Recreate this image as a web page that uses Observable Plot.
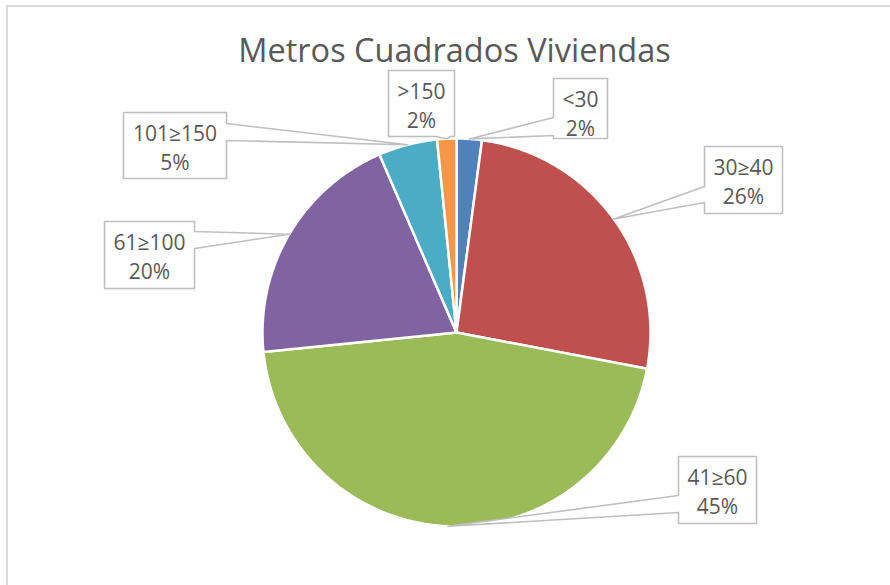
<!DOCTYPE html>
<html>
<head>
<meta charset="utf-8">
<script src="https://cdn.jsdelivr.net/npm/d3@7"></script>
<script src="https://cdn.jsdelivr.net/npm/@observablehq/plot@0.6"></script>
<style>
  html, body { margin: 0; padding: 0; background: #fff; overflow: hidden; }
  #wrap { position: relative; width: 890px; height: 585px; overflow: hidden; }
  #border { position: absolute; left: 6px; top: 5px; width: 1000px; height: 700px; border: 2px solid #d9d9d9; box-sizing: border-box; }
  #chart { position: absolute; left: 0; top: 0; }
</style>
</head>
<body>
<div id="wrap"><div id="border"></div><div id="chart"></div></div>
<script>
// ---- data ----
const title = "Metros Cuadrados Viviendas";
const categories = ["<30", "30≥40", "41≥60", "61≥100", "101≥150", ">150"];
const shares = [2.1, 25.9, 45.4, 20.1, 4.9, 1.6];
const colors = ["#4F81BD", "#C0504D", "#9BBB59", "#8064A2", "#4BACC6", "#F79646"];

// ---- layout (page pixels) ----
const W = 890, H = 585;
const CX = 456, CY = 332, R = 194;
const boxes = {
  "<30":     {left: 553, top: 78,  w: 54,  h: 60, side: "left",   a: 39, b: 57},
  "30≥40":   {left: 704, top: 146, w: 78,  h: 67, side: "left",   a: 40, b: 56},
  "41≥60":   {left: 678, top: 456, w: 78,  h: 67, side: "left",   a: 39, b: 56},
  "61≥100":  {left: 104, top: 221, w: 90,  h: 67, side: "right",  a: 10, b: 27},
  "101≥150": {left: 123, top: 112, w: 103, h: 66, side: "right",  a: 11, b: 28},
  ">150":    {left: 388, top: 70,  w: 66,  h: 66, side: "bottom", a: 47, b: 62}
};
// page px -> data coords (offsets from pie centre, y up)
const dx = px => px - CX;
const dy = py => CY - py;

const rows = categories.map((c, i) => ({cat: c, value: shares[i], pct: Math.round(shares[i]) + "%"}));
const arcs = d3.pie().sort(null).value(d => d.value).startAngle(0).endAngle(2 * Math.PI)(rows);

// slice polygons
const slicePts = [];
arcs.forEach(a => {
  slicePts.push({cat: a.data.cat, x: 0, y: 0});
  const n = Math.max(2, Math.ceil((a.endAngle - a.startAngle) / (Math.PI / 360)));
  for (let k = 0; k <= n; k++) {
    const t = a.startAngle + (a.endAngle - a.startAngle) * k / n;
    slicePts.push({cat: a.data.cat, x: R * Math.sin(t), y: R * Math.cos(t)});
  }
});

// callouts
const calloutPts = [];
const textRows = [];
arcs.forEach(a => {
  const c = a.data.cat, b = boxes[c];
  const mid = (a.startAngle + a.endAngle) / 2;
  const tip = [R * Math.sin(mid), R * Math.cos(mid)];
  const l = b.left, t = b.top, r = b.left + b.w, bm = b.top + b.h;
  let poly;
  if (b.side === "left") {
    poly = [[l, t], [r, t], [r, bm], [l, bm], [l, t + b.b], "tip", [l, t + b.a]];
  } else if (b.side === "right") {
    poly = [[l, t], [r, t], [r, t + b.a], "tip", [r, t + b.b], [r, bm], [l, bm]];
  } else {
    poly = [[l, t], [r, t], [r, bm], [l + b.b, bm], "tip", [l + b.a, bm], [l, bm]];
  }
  poly.forEach(p => {
    if (p === "tip") calloutPts.push({cat: c, x: tip[0], y: tip[1]});
    else calloutPts.push({cat: c, x: dx(p[0]), y: dy(p[1])});
  });
  textRows.push({text: c, x: dx(l + b.w / 2), y: dy(t + 22)});
  textRows.push({text: a.data.pct, x: dx(l + b.w / 2), y: dy(t + 51)});
});

const chart = Plot.plot({
  width: W, height: H,
  margin: 0,
  x: {domain: [dx(0), dx(W)], axis: null},
  y: {domain: [dy(H), dy(0)], axis: null},
  color: {domain: categories, range: colors},
  style: {fontFamily: "'Open Sans', sans-serif", background: "transparent"},
  marks: [
    Plot.line(slicePts, {x: "x", y: "y", z: "cat", fill: "cat", stroke: "white", strokeWidth: 2.5, strokeLinejoin: "round", curve: "linear-closed"}),
    Plot.line(calloutPts, {x: "x", y: "y", z: "cat", fill: "white", stroke: "#bfbfbf", strokeWidth: 1.6, curve: "linear-closed"}),
    Plot.text(textRows, {x: "x", y: "y", text: "text", fill: "#595959", fontSize: 21, textAnchor: "middle"}),
    Plot.text([title], {x: () => dx(454), y: () => dy(51), text: d => d, fill: "#595959", fontSize: 32.5, textAnchor: "middle"})
  ]
});
document.getElementById("chart").appendChild(chart);
</script>
</body>
</html>
